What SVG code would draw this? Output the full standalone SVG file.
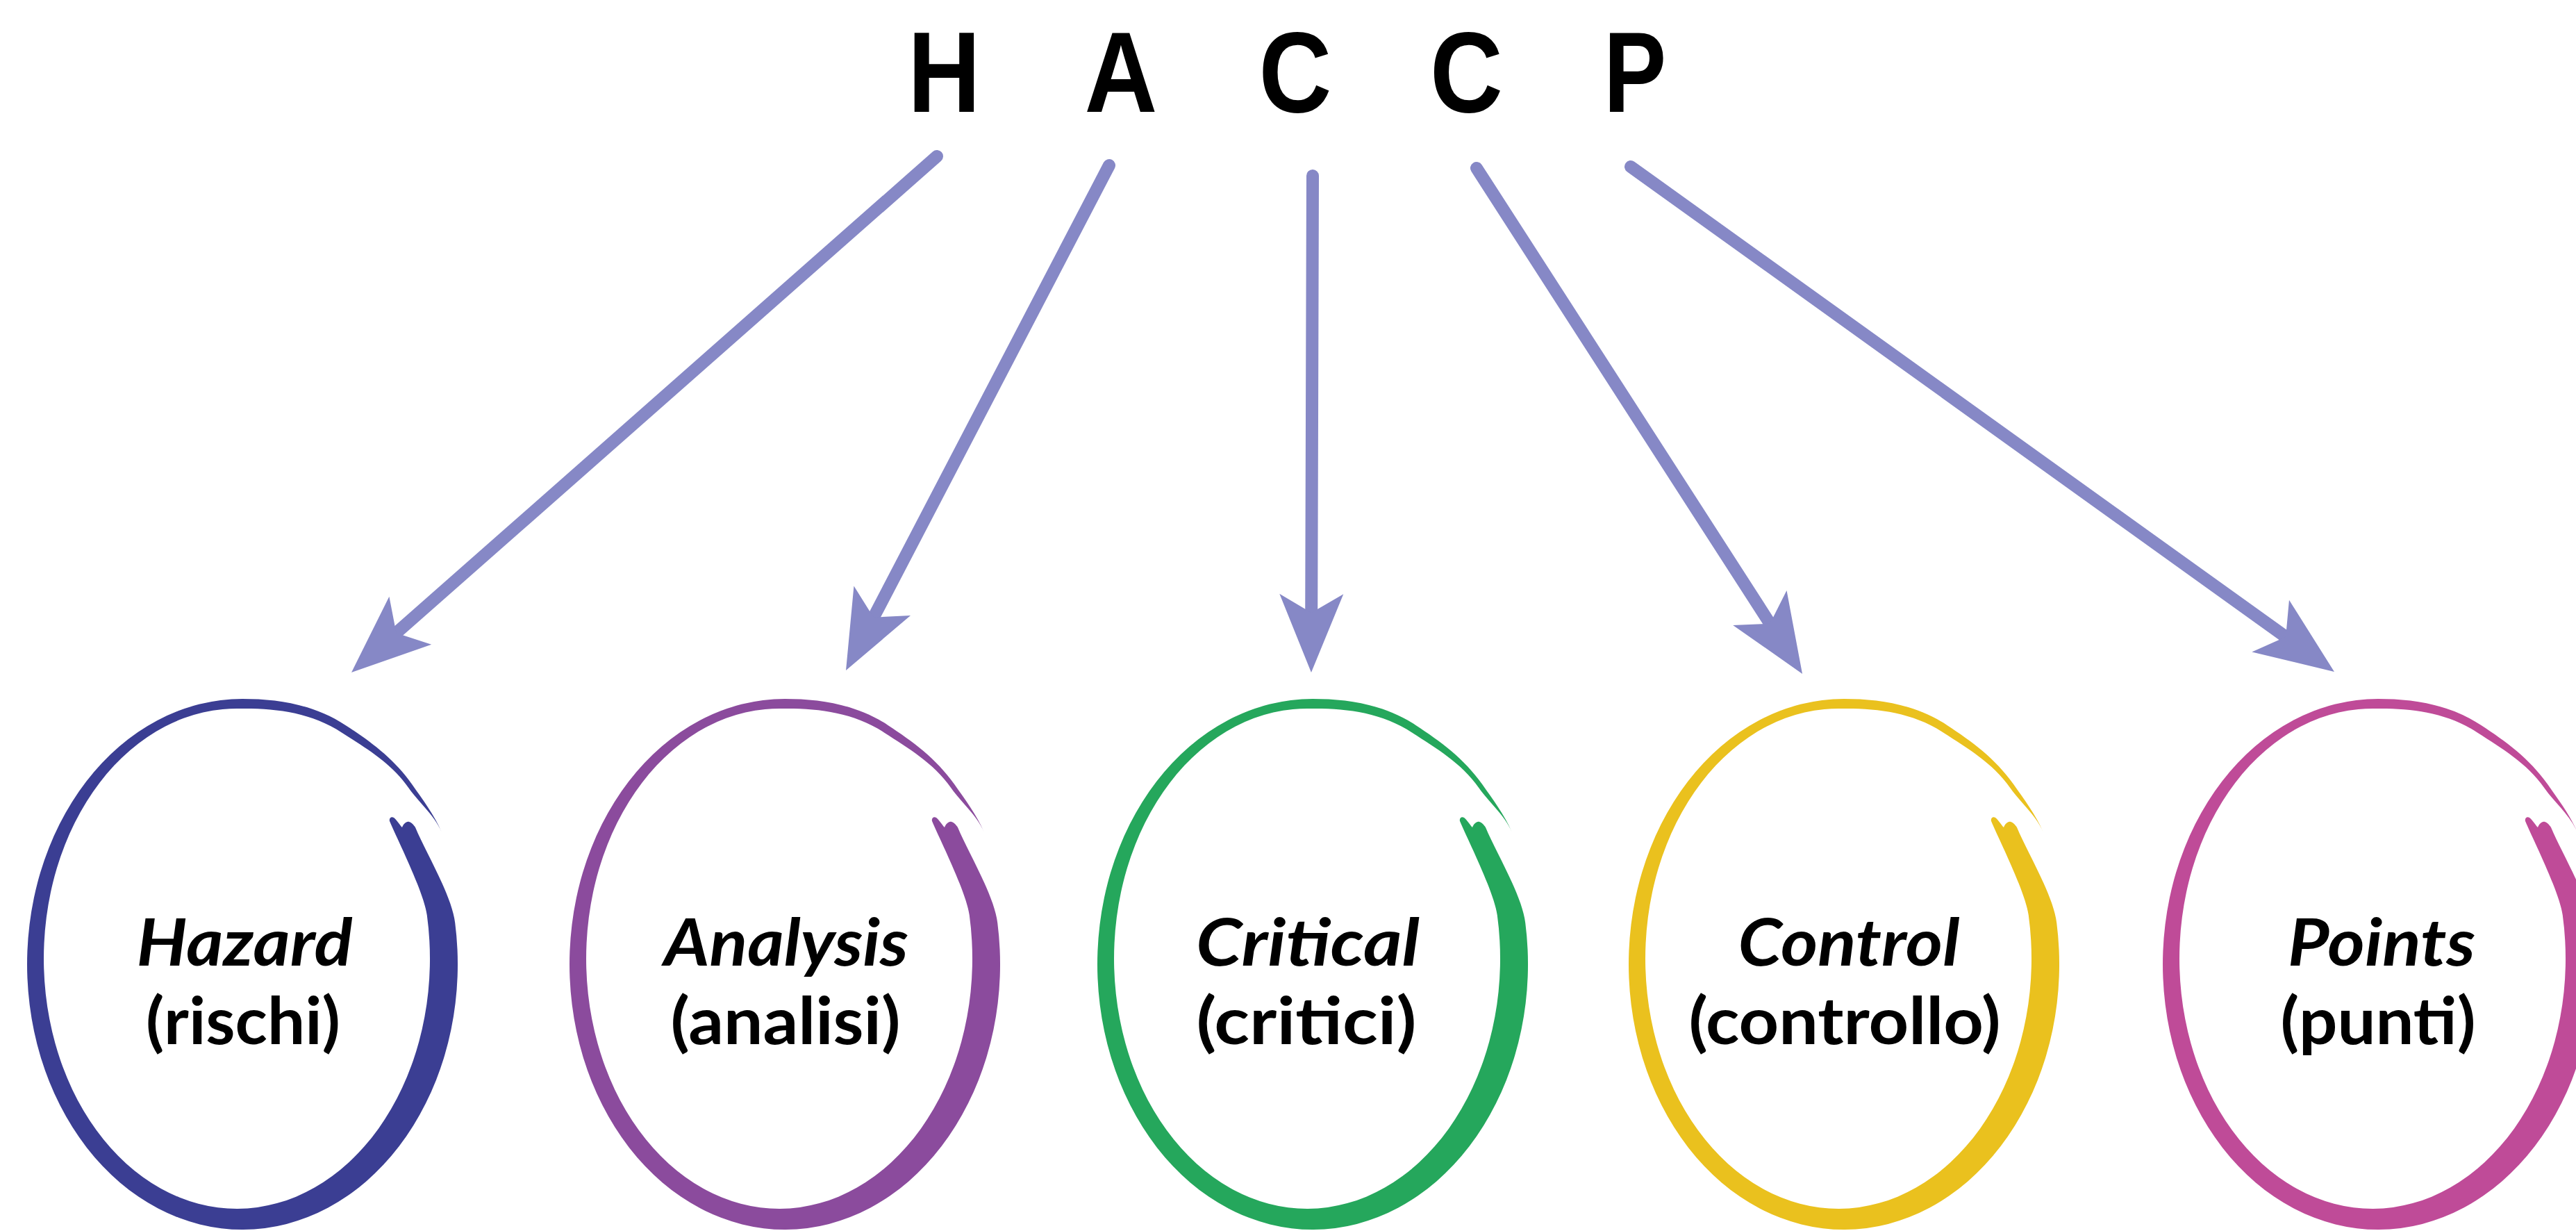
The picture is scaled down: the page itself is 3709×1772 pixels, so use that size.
<svg xmlns="http://www.w3.org/2000/svg" xmlns:xlink="http://www.w3.org/1999/xlink" width="3709" height="1772" viewBox="0 0 3709 1772">
<style>
.big{font-family:"Liberation Sans",Arial,sans-serif;font-weight:700;font-size:165px;text-anchor:middle;fill:#000}
.l1{font-family:Lato,"Liberation Sans",sans-serif;font-weight:700;font-style:italic;font-size:93px;text-anchor:middle;fill:#000}
.l2{font-family:Lato,"Liberation Sans",sans-serif;font-weight:700;font-size:93px;text-anchor:middle;fill:#000}
.arrow{stroke:#8688C6;stroke-width:18;stroke-linecap:round;fill:none;marker-end:url(#head)}
</style>
<defs>
<marker id="head" markerUnits="userSpaceOnUse" markerWidth="200" markerHeight="200" refX="0" refY="0" orient="auto" overflow="visible" viewBox="-100 -100 200 200">
<path d="M85,0 L-28,-46 L-1,0 L-28,46 Z" fill="#8688C6"/>
</marker>
<path id="ring" d="M249,-197 C264,-161 301.2,-99.8 306.2,-59.8 A310 382 0 1 1 0,-382 C50.8,-382 102.8,-374.1 148.5,-344.1 C183.2,-321.4 218.1,-296.3 244.2,-258.9 C259.4,-237.2 275.7,-215.8 286.9,-190.3 C275.7,-215.8 254.3,-232.5 239.4,-253.8 C213.8,-290.5 177.3,-311.1 143.7,-333.1 C99.4,-362.1 48.9,-368.3 0,-367.9 A278 360 0 1 0 265.8,-70.5 C261,-105 222,-182 212,-206 C211,-210 214,-213 218,-211 C222,-208 227,-200 230,-197 C232,-202 236,-206 240,-205 C244,-204 247,-200 249,-197 Z"/>
</defs>
<rect width="3709" height="1772" fill="#fff"/>
<g id="title">
<text class="big" transform="translate(1359.5,161) scale(0.88,1)">H</text>
<text class="big" transform="translate(1614,161) scale(0.88,1)">A</text>
<text class="big" transform="translate(1865,161) scale(0.88,1)">C</text>
<text class="big" transform="translate(2111.5,161) scale(0.88,1)">C</text>
<text class="big" transform="translate(2354,161) scale(0.82,1)">P</text>
</g>
<g id="connectors">
<line class="arrow" x1="1349" y1="225" x2="569.8" y2="911.8"/>
<line class="arrow" x1="1597" y1="238" x2="1257.3" y2="889.6"/>
<line class="arrow" x1="1890" y1="253" x2="1888.2" y2="883"/>
<line class="arrow" x1="2126" y1="242" x2="2549" y2="898.5"/>
<line class="arrow" x1="2348" y1="240" x2="3291.9" y2="917.4"/>
</g>
<g id="node-hazard">
<use xlink:href="#ring" transform="translate(349,1388)" fill="#3B3E93"/>
<text class="l1" x="352" y="1390" textLength="311" lengthAdjust="spacingAndGlyphs">Hazard</text>
<text class="l2" x="350" y="1503" textLength="280" lengthAdjust="spacingAndGlyphs">(rischi)</text>
</g>
<g id="node-analysis">
<use xlink:href="#ring" transform="translate(1130,1388)" fill="#8B4B9D"/>
<text class="l1" x="1132" y="1390" textLength="352" lengthAdjust="spacingAndGlyphs">Analysis</text>
<text class="l2" x="1131" y="1503" textLength="331" lengthAdjust="spacingAndGlyphs">(analisi)</text>
</g>
<g id="node-critical">
<use xlink:href="#ring" transform="translate(1890,1388)" fill="#25A75C"/>
<text class="l1" x="1883" y="1390" textLength="322" lengthAdjust="spacingAndGlyphs">Critical</text>
<text class="l2" x="1881" y="1503" textLength="317" lengthAdjust="spacingAndGlyphs">(critici)</text>
</g>
<g id="node-control">
<use xlink:href="#ring" transform="translate(2655,1388)" fill="#EAC11E"/>
<text class="l1" x="2662" y="1390" textLength="319" lengthAdjust="spacingAndGlyphs">Control</text>
<text class="l2" x="2656" y="1503" textLength="449" lengthAdjust="spacingAndGlyphs">(controllo)</text>
</g>
<g id="node-points">
<use xlink:href="#ring" transform="translate(3424,1388)" fill="#BF4B98"/>
<text class="l1" x="3429" y="1390" textLength="270" lengthAdjust="spacingAndGlyphs">Points</text>
<text class="l2" x="3424" y="1503" textLength="281" lengthAdjust="spacingAndGlyphs">(punti)</text>
</g>
</svg>
